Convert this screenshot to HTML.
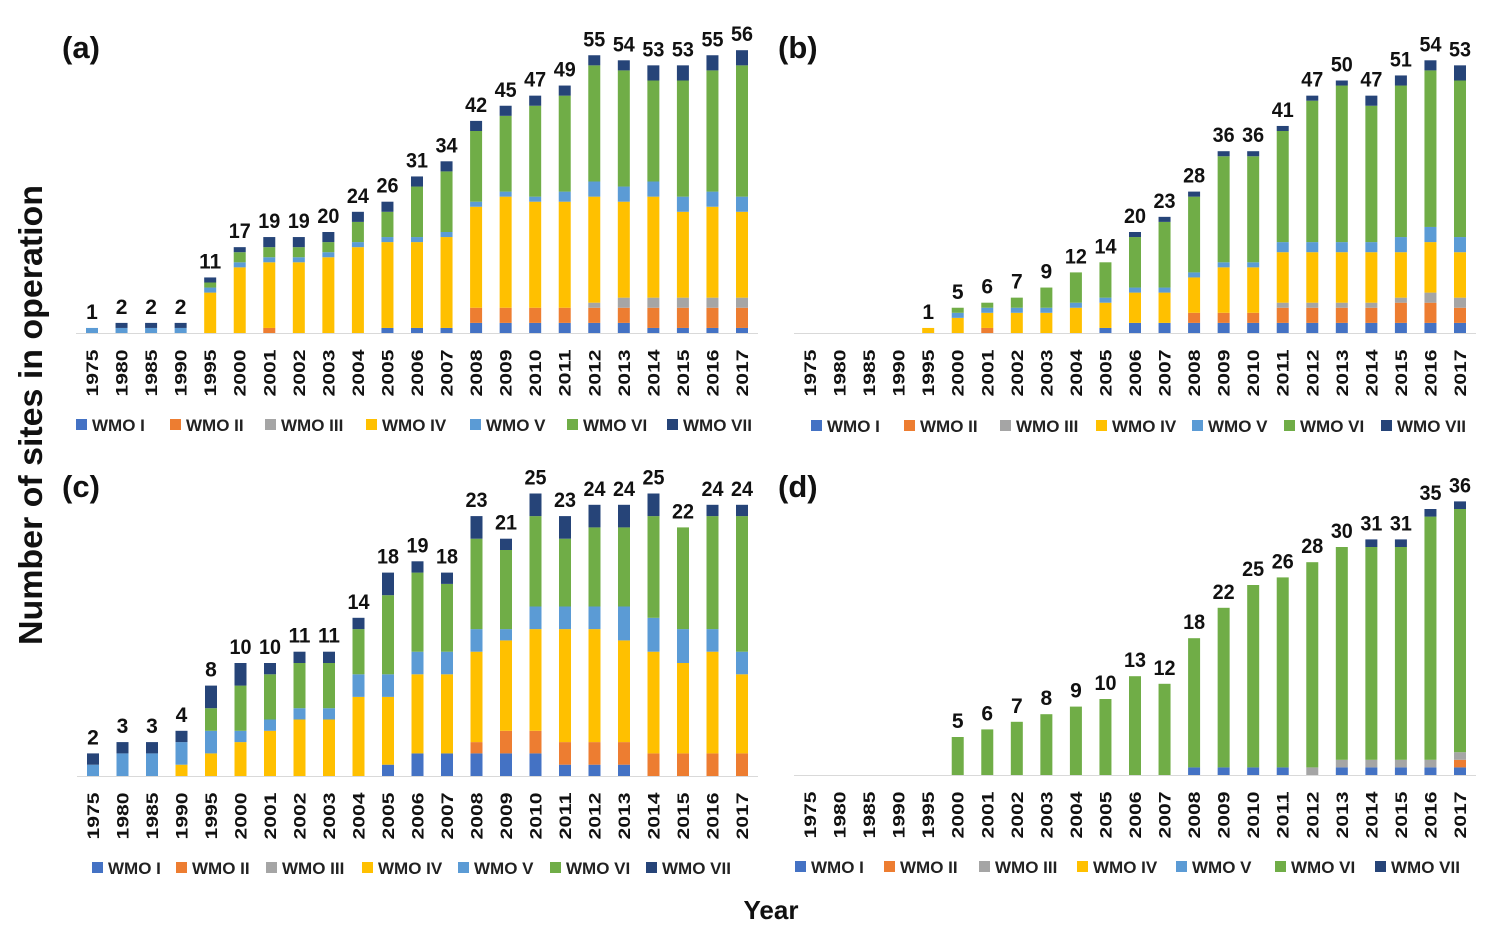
<!DOCTYPE html>
<html><head><meta charset="utf-8"><style>
body{margin:0;background:#fff;}
svg{display:block;font-family:"Liberation Sans",sans-serif;}
</style></head><body>
<svg id="chart" width="1502" height="935" viewBox="0 0 1502 935" xmlns="http://www.w3.org/2000/svg">
<text x="0" y="0" transform="translate(42,415) rotate(-90)" text-anchor="middle" font-size="33" font-weight="bold" textLength="460" lengthAdjust="spacingAndGlyphs" fill="#111">Number of sites in operation</text>
<text x="771" y="919" text-anchor="middle" font-size="26" font-weight="bold" fill="#111">Year</text>
</svg>
<script>
const years = ["1975","1980","1985","1990","1995","2000","2001","2002","2003","2004","2005","2006","2007","2008","2009","2010","2011","2012","2013","2014","2015","2016","2017"];
const seriesNames = ["WMO I","WMO II","WMO III","WMO IV","WMO V","WMO VI","WMO VII"];
const seriesColors = ["#4472C4","#ED7D31","#A5A5A5","#FFC000","#5B9BD5","#70AD47","#264478"];
// panel a
const aI   = [0,0,0,0,0,0,0,0,0,0,1,1,1,2,2,2,2,2,2,1,1,1,1];
const aII  = [0,0,0,0,0,0,1,0,0,0,0,0,0,3,3,3,3,3,3,4,4,4,4];
const aIII = [0,0,0,0,0,0,0,0,0,0,0,0,0,0,0,0,0,1,2,2,2,2,2];
const aIV  = [0,0,0,0,8,13,13,14,15,17,17,17,18,20,22,21,21,21,19,20,17,18,17];
const aV   = [1,1,1,1,1,1,1,1,1,1,1,1,1,1,1,1,2,3,3,3,3,3,3];
const aVI  = [0,0,0,0,1,2,2,2,2,4,5,10,12,14,15,18,19,23,23,20,23,24,26];
const aVII = [0,1,1,1,1,1,2,2,2,2,2,2,2,2,2,2,2,2,2,3,3,3,3];
// panel b
const bI   = [0,0,0,0,0,0,0,0,0,0,1,2,2,2,2,2,2,2,2,2,2,2,2];
const bII  = [0,0,0,0,0,0,1,0,0,0,0,0,0,2,2,2,3,3,3,3,4,4,3];
const bIII = [0,0,0,0,0,0,0,0,0,0,0,0,0,0,0,0,1,1,1,1,1,2,2];
const bIV  = [0,0,0,0,1,3,3,4,4,5,5,6,6,7,9,9,10,10,10,10,9,10,9];
const bV   = [0,0,0,0,0,1,1,1,1,1,1,1,1,1,1,1,2,2,2,2,3,3,3];
const bVI  = [0,0,0,0,0,1,1,2,4,6,7,10,13,15,21,21,22,28,31,27,30,31,31];
const bVII = [0,0,0,0,0,0,0,0,0,0,0,1,1,1,1,1,1,1,1,2,2,2,3];
// panel c
const cI   = [0,0,0,0,0,0,0,0,0,0,1,2,2,2,2,2,1,1,1,0,0,0,0];
const cII  = [0,0,0,0,0,0,0,0,0,0,0,0,0,1,2,2,2,2,2,2,2,2,2];
const cIII = [0,0,0,0,0,0,0,0,0,0,0,0,0,0,0,0,0,0,0,0,0,0,0];
const cIV  = [0,0,0,1,2,3,4,5,5,7,6,7,7,8,8,9,10,10,9,9,8,9,7];
const cV   = [1,2,2,2,2,1,1,1,1,2,2,2,2,2,1,2,2,2,3,3,3,2,2];
const cVI  = [0,0,0,0,2,4,4,4,4,4,7,7,6,8,7,8,6,7,7,9,9,10,12];
const cVII = [1,1,1,1,2,2,1,1,1,1,2,1,1,2,1,2,2,2,2,2,0,1,1];
// panel d
const dI   = [0,0,0,0,0,0,0,0,0,0,0,0,0,1,1,1,1,0,1,1,1,1,1];
const dII  = [0,0,0,0,0,0,0,0,0,0,0,0,0,0,0,0,0,0,0,0,0,0,1];
const dIII = [0,0,0,0,0,0,0,0,0,0,0,0,0,0,0,0,0,1,1,1,1,1,1];
const dIV  = [0,0,0,0,0,0,0,0,0,0,0,0,0,0,0,0,0,0,0,0,0,0,0];
const dV   = [0,0,0,0,0,0,0,0,0,0,0,0,0,0,0,0,0,0,0,0,0,0,0];
const dVI  = [0,0,0,0,0,5,6,7,8,9,10,13,12,17,21,24,25,27,28,28,28,32,32];
const dVII = [0,0,0,0,0,0,0,0,0,0,0,0,0,0,0,0,0,0,0,1,1,1,1];

const NS = "http://www.w3.org/2000/svg";
const svg = document.getElementById("chart");
function mk(tag, attrs, parent){const e=document.createElementNS(NS,tag);for(const k in attrs)e.setAttribute(k,attrs[k]);(parent||svg).appendChild(e);return e;}

const panels = [
  {id:"a", series:[aI,aII,aIII,aIV,aV,aVI,aVII], x0:92, x1:742, base:333, scale:5.05, lx:62, ly:58, legX:[76,170,265,366,470,567,667], legY:425},
  {id:"b", series:[bI,bII,bIII,bIV,bV,bVI,bVII], x0:810, x1:1460, base:333, scale:5.05, lx:778, ly:58, legX:[811,904,1000,1096,1192,1284,1381], legY:426},
  {id:"c", series:[cI,cII,cIII,cIV,cV,cVI,cVII], x0:93, x1:742, base:776, scale:11.3, lx:62, ly:497, legX:[92,176,266,362,458,550,646], legY:868},
  {id:"d", series:[dI,dII,dIII,dIV,dV,dVI,dVII], x0:810, x1:1460, base:775, scale:7.6, lx:778, ly:497, legX:[795,884,979,1077,1176,1275,1375], legY:867}
];

panels.forEach(p=>{
  const g = mk("g",{});
  
  
  const step = (p.x1-p.x0)/(years.length-1);
  const xAt = i => p.x0 + i*step;
  const yAt = v => p.base - v*p.scale;
  const lab = mk("text",{x:p.lx,y:p.ly,"font-size":31,"font-weight":"bold",fill:"#111"},g);
  lab.textContent="("+p.id+")";
  
  
  const ax = mk("line",{x1:p.x0-16,x2:p.x1+16,y1:p.base+0.5,y2:p.base+0.5,stroke:"#d9d9d9","stroke-width":1},g);
  
  
  years.forEach((yr,i)=>{
    let cum=0;
    p.series.forEach((s,k)=>{
      const v=s[i]; if(!v) return;
      const r=mk("rect",{x:xAt(i)-6,y:yAt(cum+v),width:12,height:v*p.scale,fill:seriesColors[k]},g);
      
      
      cum+=v;
    });
    if(cum>0){
      const t=mk("text",{x:xAt(i),y:yAt(cum)-9,"text-anchor":"middle","font-size":21,"font-weight":"bold",fill:"#111"},g);
      if(cum>=10){t.setAttribute("textLength","22");t.setAttribute("lengthAdjust","spacingAndGlyphs");}
      t.textContent=cum;
      
      
    }
    const tk=mk("text",{x:0,y:0,transform:`translate(${xAt(i)+6},${p.base+40}) rotate(-90)`,"text-anchor":"middle","font-size":17,"font-weight":"bold",fill:"#111",textLength:"47",lengthAdjust:"spacingAndGlyphs"},g);
    tk.textContent=yr;
    
    
  });
  seriesNames.forEach((n,k)=>{
    const lg=mk("g",{},g);
    
    
    mk("rect",{x:p.legX[k],y:p.legY-6,width:11,height:11,fill:seriesColors[k]},lg);
    const t=mk("text",{x:p.legX[k]+16,y:p.legY+6,"font-size":17,"font-weight":"bold",fill:"#222"},lg);
    t.textContent=n;
  });
});
</script>
</body></html>
